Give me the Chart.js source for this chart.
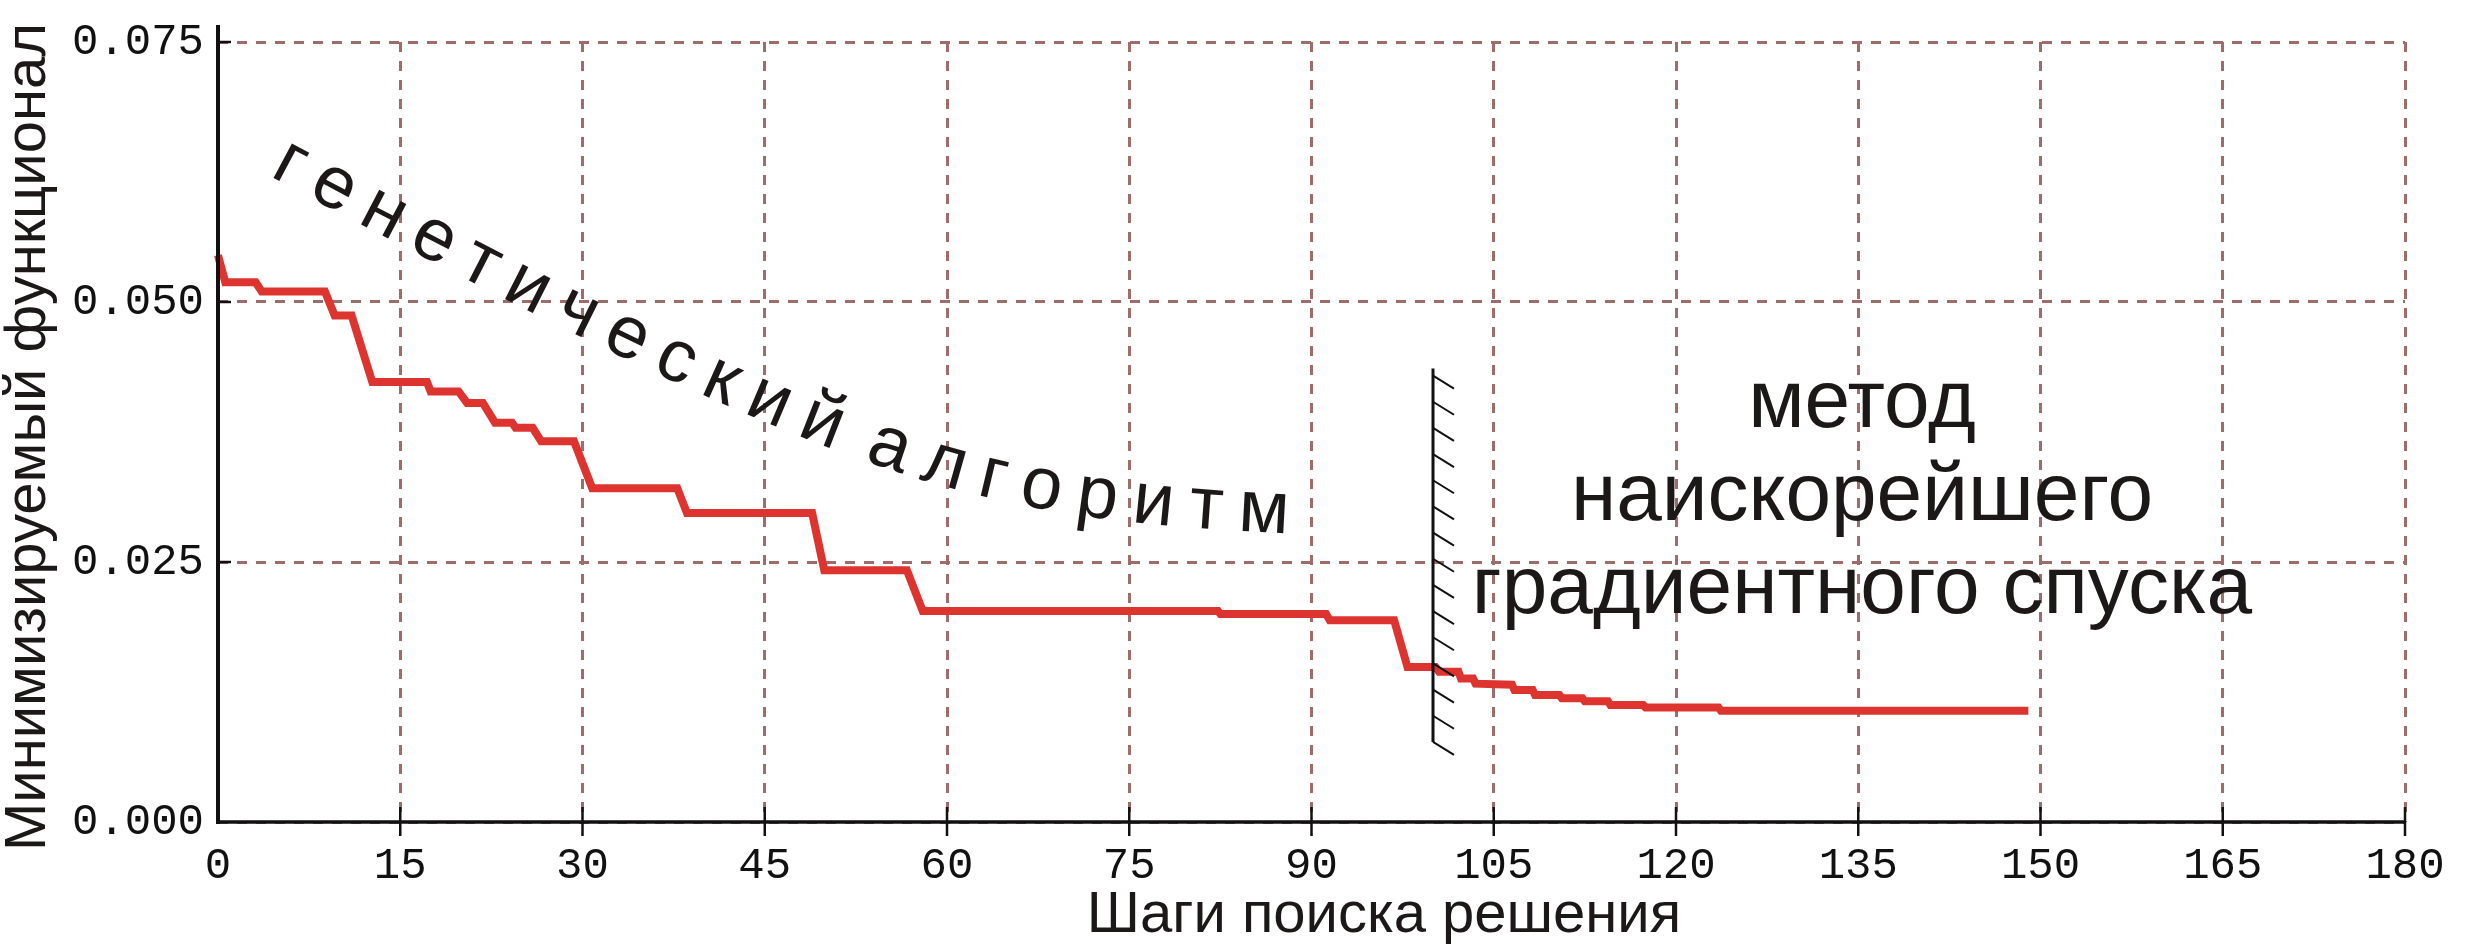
<!DOCTYPE html>
<html lang="ru">
<head>
  <meta charset="UTF-8">
  <title>Минимизируемый функционал</title>
  <script src="https://cdn.jsdelivr.net/npm/chart.js"></script>
  <style>
    html, body { margin: 0; padding: 0; background: #fff; }
    canvas { display: block; }
  </style>
</head>
<body>
  <canvas id="searchChart" width="2470" height="946"></canvas>
  <script>
    // шаги поиска и значение функционала
    const steps = [0, 0.6, 3.1, 3.6, 8.8, 9.6, 11.0, 12.7, 17.2, 17.5, 19.8, 20.5, 21.8, 22.8,
      24.2, 24.5, 25.9, 26.6, 29.3, 30.8, 37.8, 38.6, 48.9, 49.9, 56.7, 58.0, 82.3, 82.5,
      91.2, 91.5, 96.8, 97.9, 100.2, 100.5, 102.1, 102.3, 103.3, 103.5, 106.5, 106.7,
      108.2, 108.4, 110.4, 110.6, 112.3, 112.5, 114.4, 114.6, 117.3, 117.5, 123.5, 123.7, 149];
    const values = [0.0545, 0.0519, 0.0519, 0.0510, 0.0510, 0.0487, 0.0487, 0.0423, 0.0423, 0.0414,
      0.0414, 0.0403, 0.0403, 0.0384, 0.0384, 0.0379, 0.0379, 0.0366, 0.0366, 0.0321, 0.0321,
      0.0297, 0.0297, 0.0242, 0.0242, 0.0203, 0.0203, 0.0200, 0.0200, 0.0194, 0.0194, 0.0149,
      0.0149, 0.01445, 0.01445, 0.0138, 0.0138, 0.0133, 0.0132, 0.0127, 0.0127, 0.0122, 0.0122,
      0.0119, 0.0119, 0.0116, 0.0116, 0.01125, 0.01125, 0.0110, 0.0110, 0.0107, 0.0107];

    const xTicks = [0, 15, 30, 45, 60, 75, 90, 105, 120, 135, 150, 165, 180];
    const yTicks = [0, 0.025, 0.050, 0.075];

    // граница между ГА и градиентным спуском
    const boundaryStep = 100;
    const boundaryTop = 0.0436;
    const boundaryBottom = 0.0077;

    const xTitle = 'Шаги поиска решения';
    const yTitle = 'Минимизируемый функционал';
    const gaLabel = 'генетический алгоритм';
    const gdLabel = ['метод', 'наискорейшего', 'градиентного спуска'];

    const gridColor = '#a06b6b';
    const textColor = '#1c1818';

    function drawCurvedText(ctx, text, p, size) {
      ctx.font = size + 'px "Liberation Sans", Arial, sans-serif';
      const bez = t => {
        const u = 1 - t;
        const a = u * u * u, b = 3 * u * u * t, c = 3 * u * t * t, d = t * t * t;
        return [a * p[0][0] + b * p[1][0] + c * p[2][0] + d * p[3][0],
                a * p[0][1] + b * p[1][1] + c * p[2][1] + d * p[3][1]];
      };
      const samples = [{ s: 0, p: bez(0) }];
      let len = 0;
      for (let i = 1; i <= 600; i++) {
        const q = bez(i / 600);
        const last = samples[samples.length - 1].p;
        len += Math.hypot(q[0] - last[0], q[1] - last[1]);
        samples.push({ s: len, p: q });
      }
      const chars = [...text];
      const widths = chars.map(c => c === ' ' ? 0 : ctx.measureText(c).width);
      let base = 0;
      for (let i = 0; i < chars.length - 1; i++) base += (widths[i] + widths[i + 1]) / 2;
      const gap = (len - base) / (chars.length - 1);
      const xh = size * 0.519;
      let s = 0;
      chars.forEach((c, i) => {
        if (i > 0) s += (widths[i - 1] + widths[i]) / 2 + gap;
        if (c === ' ') return;
        let k = samples.findIndex(q => q.s >= s);
        if (k < 1) k = k === 0 ? 1 : samples.length - 1;
        const a = samples[k - 1], b = samples[k];
        const f = Math.min(1, (s - a.s) / ((b.s - a.s) || 1));
        const px = a.p[0] + f * (b.p[0] - a.p[0]);
        const py = a.p[1] + f * (b.p[1] - a.p[1]);
        const ang = Math.atan2(b.p[1] - a.p[1], b.p[0] - a.p[0]);
        ctx.save();
        ctx.translate(px, py);
        ctx.rotate(ang);
        ctx.fillText(c, -widths[i] / 2, xh / 2);
        ctx.restore();
      });
    }

    const decorations = {
      id: 'decorations',
      afterDatasetsDraw(chart) {
        const { ctx, scales: { x, y } } = chart;
        const x0 = x.getPixelForValue(0);
        const y0 = y.getPixelForValue(0);
        ctx.save();
        ctx.strokeStyle = '#111';
        ctx.lineCap = 'butt';

        // оси
        ctx.lineWidth = 4;
        ctx.beginPath();
        ctx.moveTo(x0, y0 + 2);
        ctx.lineTo(x0, y.top - 17);
        ctx.stroke();
        ctx.lineWidth = 3.5;
        ctx.beginPath();
        ctx.moveTo(x0 - 2, y0);
        ctx.lineTo(x.right, y0);
        ctx.stroke();

        // засечки
        ctx.lineWidth = 2.5;
        yTicks.slice(1).forEach(v => {
          const py = y.getPixelForValue(v);
          ctx.beginPath(); ctx.moveTo(x0, py); ctx.lineTo(x0 + 13, py); ctx.stroke();
        });
        xTicks.slice(1).forEach(v => {
          const px = x.getPixelForValue(v);
          ctx.beginPath(); ctx.moveTo(px, y0 - 15); ctx.lineTo(px, y0 + 14); ctx.stroke();
        });

        // штрихованная граница
        const bx = x.getPixelForValue(boundaryStep);
        const bt = y.getPixelForValue(boundaryTop);
        const bb = y.getPixelForValue(boundaryBottom);
        ctx.lineWidth = 3;
        ctx.beginPath(); ctx.moveTo(bx, bt); ctx.lineTo(bx, bb); ctx.stroke();
        ctx.lineWidth = 2;
        const n = 15;
        for (let i = 0; i < n; i++) {
          const hy = bt + 7 + i * (bb - bt - 7) / (n - 1);
          ctx.beginPath(); ctx.moveTo(bx, hy); ctx.lineTo(bx + 21, hy + 13); ctx.stroke();
        }

        ctx.fillStyle = textColor;

        // подписи осей
        ctx.font = '58px "Liberation Sans", Arial, sans-serif';
        ctx.textAlign = 'center';
        ctx.textBaseline = 'alphabetic';
        ctx.fillText(xTitle, 1384, 932);
        ctx.save();
        ctx.translate(45, 437);
        ctx.rotate(-Math.PI / 2);
        ctx.fillText(yTitle, 0, 0);
        ctx.restore();

        // правый блок текста
        ctx.font = '82px "Liberation Sans", Arial, sans-serif';
        gdLabel.forEach((line, i) => ctx.fillText(line, 1862, 427 + i * 93));

        // надпись по дуге
        ctx.textAlign = 'left';
        drawCurvedText(ctx, gaLabel,
          [[290, 165], [837, 456], [964, 497], [1264, 513]], 74);

        ctx.restore();
      }
    };

    new Chart(document.getElementById('searchChart'), {
      type: 'line',
      data: {
        datasets: [{
          data: steps.map((s, i) => ({ x: s, y: values[i] })),
          borderColor: '#dd3430',
          borderWidth: 8,
          pointRadius: 0,
          tension: 0,
          fill: false,
          clip: 12
        }]
      },
      plugins: [decorations],
      options: {
        responsive: false,
        animation: false,
        devicePixelRatio: 1,
        layout: { padding: { top: 42, right: 65, left: 0, bottom: 0 } },
        plugins: { legend: { display: false }, tooltip: { enabled: false } },
        scales: {
          x: {
            type: 'linear',
            min: 0,
            max: 180,
            afterBuildTicks: s => { s.ticks = xTicks.map(v => ({ value: v })); },
            afterFit: s => { s.height = 124; },
            grid: { color: gridColor, lineWidth: 3, drawTicks: false },
            border: { display: false, dash: [10, 9] },
            ticks: {
              font: { family: '"Liberation Mono", monospace', size: 44 },
              color: '#111',
              padding: 18,
              maxRotation: 0,
              autoSkip: false
            }
          },
          y: {
            type: 'linear',
            min: 0,
            max: 0.075,
            afterBuildTicks: s => { s.ticks = yTicks.map(v => ({ value: v })); },
            afterFit: s => { s.width = 218; },
            grid: { color: gridColor, lineWidth: 3, drawTicks: false },
            border: { display: false, dash: [10, 9] },
            ticks: {
              font: { family: '"Liberation Mono", monospace', size: 44 },
              color: '#111',
              padding: 14,
              callback: v => v.toFixed(3)
            }
          }
        }
      }
    });
  </script>
</body>
</html>
